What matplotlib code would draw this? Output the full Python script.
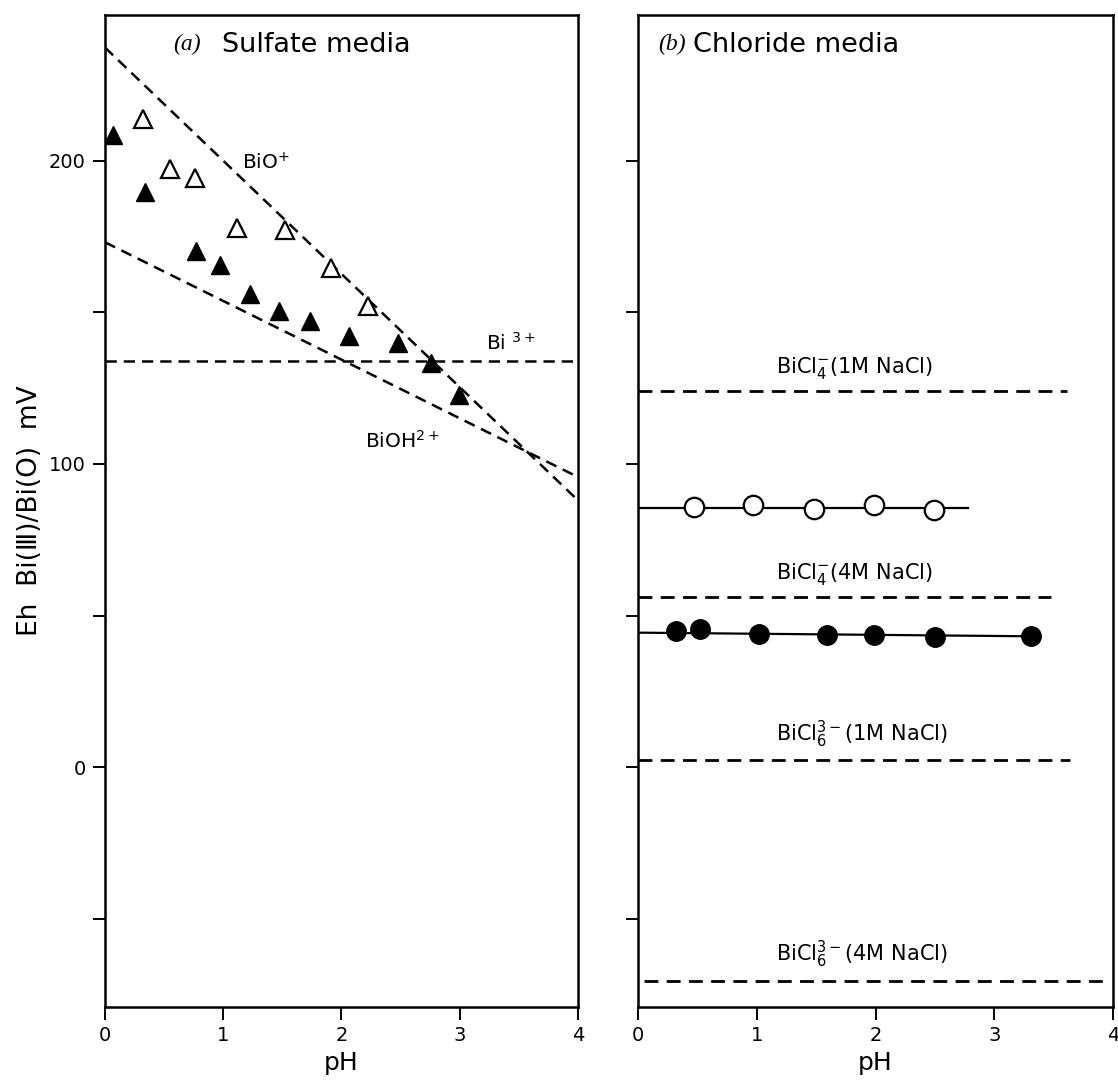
import matplotlib
matplotlib.use("Agg")
import matplotlib.pyplot as plt

plt.rcParams['font.family'] = ['DejaVu Sans']
plt.rcParams['mathtext.fontset'] = 'dejavusans'

# (a) sulfate media: measured potentials vs pH
ph_open_tri = [0.32, 0.55, 0.76, 1.12, 1.52, 1.91, 2.22]
eh_open_tri = [213.8, 197.4, 194.4, 177.9, 177.3, 164.7, 152.2]
ph_fill_tri = [0.07, 0.34, 0.77, 0.97, 1.23, 1.47, 1.73, 2.06, 2.48, 2.76, 2.99]
eh_fill_tri = [208.6, 189.8, 170.3, 165.7, 156.2, 150.6, 147.3, 142.3, 140.0, 133.4, 122.6]

# calculated lines for each species (pH ends, Eh ends)
bio_ph, bio_eh = [0.0, 4.0], [237.3, 88.0]
bioh_ph, bioh_eh = [0.0, 4.0], [173.1, 95.7]
bi3_ph, bi3_eh = [0.0, 4.0], [134.1, 134.1]

# (b) chloride media
ph_open_circ = [0.47, 0.97, 1.48, 1.99, 2.49]
eh_open_circ = [85.8, 86.4, 85.3, 86.5, 84.9]
open_fit_ph, open_fit_eh = [0.0, 2.78], [85.6, 85.6]
ph_fill_circ = [0.32, 0.52, 1.02, 1.59, 1.99, 2.50, 3.31]
eh_fill_circ = [44.9, 45.5, 43.8, 43.6, 43.6, 43.0, 43.4]
fill_fit_ph, fill_fit_eh = [0.0, 3.31], [44.4, 43.2]

chloride_levels = [124.0, 56.0, 2.5, -70.5]
chloride_ph_start = [0.0, 0.0, 0.0, 0.05]
chloride_ph_end = [3.61, 3.48, 3.64, 3.94]
chloride_labels = [r'BiCl$_4^{-}$(1M NaCl)', r'BiCl$_4^{-}$(4M NaCl)',
                   r'BiCl$_6^{3-}$(1M NaCl)', r'BiCl$_6^{3-}$(4M NaCl)']
label_eh = [130.0, 62.0, 8.5, -64.0]

yticks = [-50, 0, 50, 100, 150, 200]
ytick_labels = ['', '0', '', '100', '', '200']
xticks = [0, 1, 2, 3, 4]

dash = (0, (4.5, 2.8))

fig = plt.figure(figsize=(11.18, 10.83), dpi=100)
ax_a = fig.add_axes([0.0939, 0.0702, 0.4231, 0.9159])
ax_b = fig.add_axes([0.5707, 0.0702, 0.4249, 0.9159])

for ax in (ax_a, ax_b):
    ax.set_xlim(0, 4)
    ax.set_ylim(-79, 248)
    ax.set_xticks(xticks)
    ax.set_yticks(yticks)
    ax.tick_params(direction='out', length=9, width=1.4, labelsize=14, pad=5)
    for s in ax.spines.values():
        s.set_linewidth(1.8)
    ax.set_xlabel('pH', fontsize=18, labelpad=4)

ax_a.set_yticklabels(ytick_labels)
ax_b.set_yticklabels([])
ax_a.set_ylabel('Eh  Bi(Ⅲ)/Bi(O)  mV', fontsize=19, labelpad=4)

# panel (a)
ax_a.plot(bio_ph, bio_eh, color='black', lw=1.8, ls=dash)
ax_a.plot(bioh_ph, bioh_eh, color='black', lw=1.8, ls=dash)
ax_a.plot(bi3_ph, bi3_eh, color='black', lw=1.8, ls=dash)
ax_a.plot(ph_open_tri, eh_open_tri, ls='none', marker='^', ms=12.5,
          mfc='white', mec='black', mew=1.6)
ax_a.plot(ph_fill_tri, eh_fill_tri, ls='none', marker='^', ms=12.5,
          mfc='black', mec='black')

ax_a.text(1.16, 197.0, r'BiO$^{+}$', fontsize=14.5)
ax_a.text(3.22, 137.5, r'Bi $^{3+}$', fontsize=14.5)
ax_a.text(2.20, 105.5, r'BiOH$^{2+}$', fontsize=14.5)
ax_a.text(0.144, 0.97, '(a)', transform=ax_a.transAxes, fontsize=17,
          family='Liberation Serif', style='italic', ha='left', va='center')
ax_a.text(0.247, 0.97, 'Sulfate media', transform=ax_a.transAxes, fontsize=19.5,
          ha='left', va='center')

# panel (b)
for lvl, x0, x1, lab, ly in zip(chloride_levels, chloride_ph_start,
                                chloride_ph_end, chloride_labels, label_eh):
    ax_b.plot([x0, x1], [lvl, lvl], color='black', lw=2.0, ls=(0, (5, 3)))
    ax_b.text(1.16, ly, lab, fontsize=15)

ax_b.plot(open_fit_ph, open_fit_eh, color='black', lw=1.6)
ax_b.plot(ph_open_circ, eh_open_circ, ls='none', marker='o', ms=14,
          mfc='white', mec='black', mew=1.6)
ax_b.plot(fill_fit_ph, fill_fit_eh, color='black', lw=1.6)
ax_b.plot(ph_fill_circ, eh_fill_circ, ls='none', marker='o', ms=14,
          mfc='black', mec='black')

ax_b.text(0.042, 0.97, '(b)', transform=ax_b.transAxes, fontsize=17,
          family='Liberation Serif', style='italic', ha='left', va='center')
ax_b.text(0.115, 0.97, 'Chloride media', transform=ax_b.transAxes, fontsize=19.5,
          ha='left', va='center')

fig.savefig('out.png', dpi=100)
